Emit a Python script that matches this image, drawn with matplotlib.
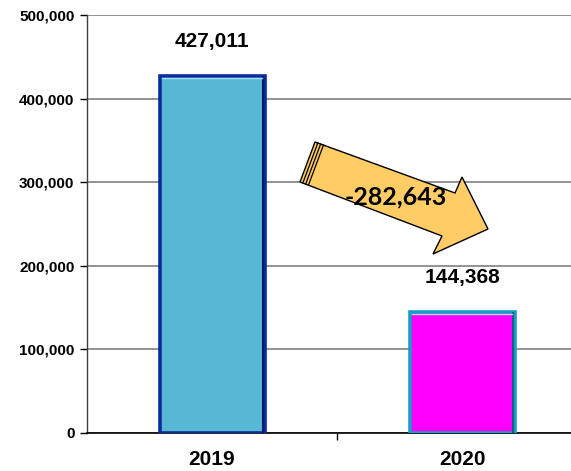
import matplotlib
matplotlib.use("Agg")
import matplotlib.pyplot as plt
from matplotlib.patches import Polygon
from matplotlib.ticker import FuncFormatter, FixedLocator

categories = ["2019", "2020"]
values = [427011, 144368]
change_label = "-282,643"
face_colors = ["#56B8D4", "#FF00FF"]
edge_colors = ["#0A2A9E", "#1A9CC8"]
dark_edges = ["#061A6A", "#0E5F80"]

W, H = 571, 471
fig = plt.figure(figsize=(W / 100, H / 100), dpi=100)
plt.rcParams['font.family'] = ['Liberation Sans', 'DejaVu Sans']

left, right, top, bottom = 87, 587, 15, 433
ax = fig.add_axes([left / W, 1 - bottom / H, (right - left) / W, (bottom - top) / H])
ax.set_xlim(-0.5, 1.5)
ax.set_ylim(0, 500000)

x = list(range(len(categories)))
bw = 0.42
bars = ax.bar(x, values, width=bw, color=face_colors, edgecolor=edge_colors,
              linewidth=2.6, zorder=3)
# subtle bevel: darker right inner stroke, light top stroke
for i, b in enumerate(bars):
    bx, by = b.get_x(), b.get_y()
    bwid, bh = b.get_width(), b.get_height()
    ax.plot([bx + bwid - 0.008, bx + bwid - 0.008], [by, by + bh], color=dark_edges[i],
            lw=1.5, zorder=4, solid_capstyle='butt')
    ax.plot([bx + 0.01, bx + bwid - 0.01], [by + bh - 2500, by + bh - 2500],
            color="#9FE3F5", lw=1.0, zorder=4)

for xi, v in zip(x, values):
    ax.annotate(f"{v:,}", (xi, v), xytext=(0, 25), textcoords="offset points",
                ha="center", va="center", fontsize=15, fontweight="bold",
                color="black", zorder=5)

ax.yaxis.set_major_locator(FixedLocator([0, 100000, 200000, 300000, 400000, 500000]))
ax.yaxis.set_major_formatter(FuncFormatter(lambda v, p: f"{int(v):,}"))
ax.grid(axis="y", color="#808080", lw=1.2, zorder=0)
ax.set_axisbelow(True)

ax.set_xticks(x)
ax.set_xticklabels(categories, fontsize=15, fontweight="bold")
ax.set_xticks([0.5], minor=True)
ax.tick_params(axis="x", which="major", length=0, pad=12)
ax.tick_params(axis="x", which="minor", length=5, width=1, direction="out")
ax.tick_params(axis="y", length=5, width=1, direction="out", labelsize=11, pad=4)
for lab in ax.get_yticklabels():
    lab.set_fontweight("bold")

for s in ["top", "right"]:
    ax.spines[s].set_visible(False)
ax.spines["left"].set_color("#404040")
ax.spines["bottom"].set_color("black")
ax.spines["left"].set_linewidth(1.0)
ax.spines["bottom"].set_linewidth(1.2)

# arrow annotation (in figure pixel coordinates)
def fp(pts):
    return [(px / W, 1 - py / H) for px, py in pts]

arrow_pts = [(315, 142), (455, 193), (462, 177), (488, 229), (433, 254),
             (442, 236), (300, 182)]
arrow = Polygon(fp(arrow_pts), closed=True, facecolor="#FFCC66", edgecolor="black",
                lw=1.0, transform=fig.transFigure, zorder=10)
fig.patches.append(arrow)
for off in [3, 6, 9]:
    dx = off * 0.94
    dy = off * 0.34
    fig.add_artist(plt.Line2D([(315 + dx) / W, (300 + dx) / W],
                              [1 - (142 + dy) / H, 1 - (182 + dy) / H],
                              color="black", lw=0.9, transform=fig.transFigure, zorder=11))
fig.text(396 / W, 1 - 197 / H, change_label, ha="center", va="center",
         fontsize=18, fontweight="bold", family=["Lato", "DejaVu Sans"], zorder=12)

fig.savefig("out.png", dpi=100)
